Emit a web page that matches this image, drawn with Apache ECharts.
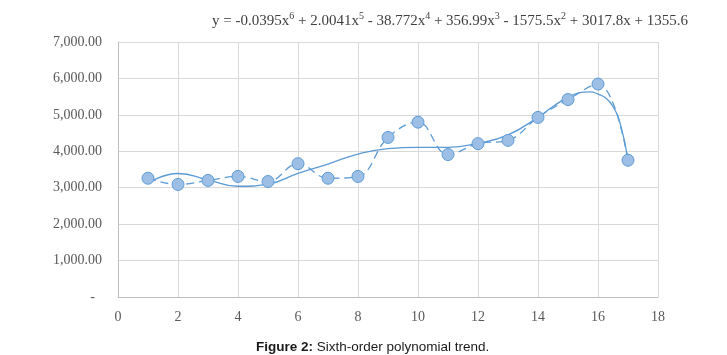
<!DOCTYPE html>
<html>
<head>
<meta charset="utf-8">
<script src="https://cdn.jsdelivr.net/npm/echarts@6/dist/echarts.min.js"></script>
<style>
  html, body { margin: 0; padding: 0; background: #fff; }
  #chart { width: 727px; height: 355px; }
</style>
</head>
<body>
<div id="chart"></div>
<script>
const xs = [1, 2, 3, 4, 5, 6, 7, 8, 9, 10, 11, 12, 13, 14, 15, 16, 17];
const values = [3260, 3090, 3200, 3310, 3170, 3660, 3260, 3310, 4380, 4800, 3910, 4210, 4300, 4930, 5420, 5845, 3755];

// sixth-order trend line
const trendX = [1, 2, 3, 4, 5, 6, 7, 8, 9, 10, 11, 12, 13, 14, 14.5, 15, 15.5, 15.75, 16, 16.25, 16.5, 16.75, 17];
const trendY = [3120, 3390, 3215, 3040, 3100, 3395, 3650, 3925, 4075, 4110, 4110, 4220, 4450, 4935, 5230, 5480, 5625, 5630, 5570, 5470, 5230, 4730, 3760];

const yTicks = [0, 1000, 2000, 3000, 4000, 5000, 6000, 7000];
const xTicks = [0, 2, 4, 6, 8, 10, 12, 14, 16, 18];

const blue = '#5b9bd5';
const serif = '"Liberation Serif", "DejaVu Serif", serif';

const chart = echarts.init(document.getElementById('chart'));

const eqText = 'y = -0.0395x{s|6} + 2.0041x{s|5} - 38.772x{s|4} + 356.99x{s|3} - 1575.5x{s|2} + 3017.8x + 1355.6';

chart.setOption({
  animation: false,
  title: [{
    text: eqText,
    left: 207,
    top: 6,
    textStyle: {
      fontFamily: serif,
      fontSize: 15,
      fontWeight: 'normal',
      color: '#404040',
      lineHeight: 20,
      rich: {
        s: { fontFamily: serif, fontSize: 10, color: '#404040', lineHeight: 10, verticalAlign: 'top' }
      }
    }
  }, {
    text: '{b|Figure 2:} Sixth-order polynomial trend.',
    left: 251,
    top: 335,
    textStyle: {
      fontFamily: '"Liberation Sans", Arial, sans-serif',
      fontSize: 13.5,
      fontWeight: 'normal',
      color: '#1a1a1a',
      rich: {
        b: { fontFamily: '"Liberation Sans", Arial, sans-serif', fontSize: 13.5, fontWeight: 'bold', color: '#1a1a1a' }
      }
    }
  }],
  grid: { left: 118, right: 69, top: 42, bottom: 58 },
  xAxis: {
    type: 'value',
    min: xTicks[0],
    max: xTicks[xTicks.length - 1],
    interval: 2,
    axisLine: { lineStyle: { color: '#bfbfbf', width: 1 } },
    axisTick: { show: false },
    splitLine: { lineStyle: { color: '#d9d9d9', width: 1 } },
    axisLabel: { fontFamily: serif, fontSize: 14, color: '#595959', margin: 13 }
  },
  yAxis: {
    type: 'value',
    min: yTicks[0],
    max: yTicks[yTicks.length - 1],
    interval: 1000,
    axisLine: { show: true, lineStyle: { color: '#bfbfbf', width: 1 } },
    axisTick: { show: false },
    splitLine: { lineStyle: { color: '#d9d9d9', width: 1 } },
    axisLabel: {
      fontFamily: serif, fontSize: 14, color: '#595959', margin: 16,
      formatter: function (v) {
        if (v === 0) return '-  ';
        return v.toLocaleString('en-US', { minimumFractionDigits: 2, maximumFractionDigits: 2 });
      }
    }
  },
  series: [{
    name: 'trend',
    type: 'line',
    smooth: 0.5,
    showSymbol: false,
    symbol: 'none',
    lineStyle: { color: blue, width: 1.3 },
    data: trendX.map((x, i) => [x, trendY[i]]),
    z: 2
  }, {
    name: 'values',
    type: 'line',
    smooth: 0.4,
    symbol: 'circle',
    symbolSize: 12,
    itemStyle: { color: '#9dbfe6', borderColor: blue, borderWidth: 1 },
    lineStyle: { color: blue, width: 1.3, type: [8, 5] },
    data: xs.map((x, i) => [x, values[i]]),
    z: 3
  }]
});
</script>
</body>
</html>
